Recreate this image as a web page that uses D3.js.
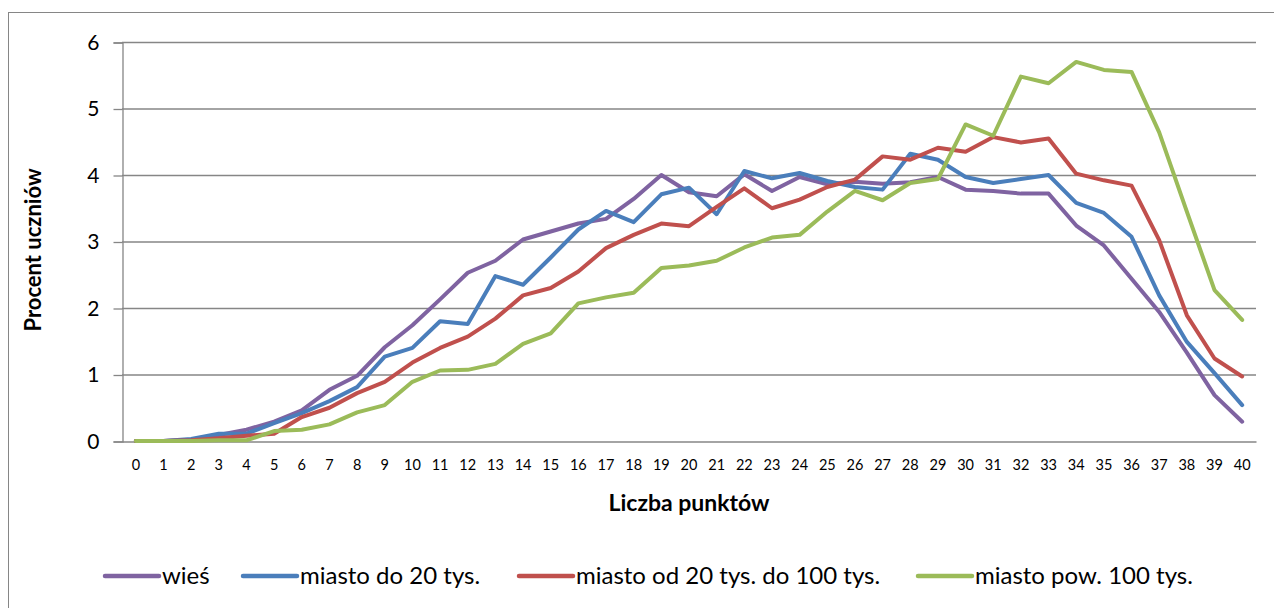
<!DOCTYPE html>
<html>
<head>
<meta charset="utf-8">
<script src="https://cdn.jsdelivr.net/npm/d3@7"></script>
<style>
	body { margin: 0; background: #fff; }
	svg { display: block; font-family: Lato, "Noto Sans", sans-serif; }
</style>
</head>
<body>
<script>
var points = d3.range(0, 41);
var yTicks = [0, 1, 2, 3, 4, 5, 6];
var seriesNames = ["wieś", "miasto do 20 tys.", "miasto od 20 tys. do 100 tys.", "miasto pow. 100 tys."];
var seriesColors = ["#7F63A1", "#4A7EBB", "#C0504D", "#9BBB59"];

var wies = [0, 0, 0.02, 0.09, 0.17, 0.29, 0.46, 0.77, 0.98, 1.41,
	1.74, 2.13, 2.53, 2.71, 3.03, 3.15, 3.27, 3.34, 3.64, 4.0,
	3.74, 3.68, 4.01, 3.76, 3.97, 3.86, 3.9, 3.87, 3.89, 3.97,
	3.78, 3.76, 3.72, 3.72, 3.24, 2.94, 2.44, 1.94, 1.33, 0.69, 0.29];
var miastoDo20 = [0, 0, 0.03, 0.11, 0.11, 0.27, 0.42, 0.6, 0.81, 1.27,
	1.4, 1.8, 1.76, 2.48, 2.35, 2.76, 3.18, 3.46, 3.29, 3.71,
	3.81, 3.41, 4.06, 3.95, 4.03, 3.91, 3.82, 3.78, 4.32, 4.23,
	3.97, 3.88, 3.94, 4.0, 3.58, 3.43, 3.07, 2.19, 1.49, 1.02, 0.54];
var miastoDo100 = [0, 0, 0.01, 0.04, 0.08, 0.11, 0.36, 0.5, 0.72, 0.89,
	1.18, 1.4, 1.57, 1.84, 2.19, 2.3, 2.55, 2.9, 3.1, 3.27,
	3.23, 3.52, 3.8, 3.5, 3.63, 3.82, 3.93, 4.28, 4.23, 4.41,
	4.35, 4.57, 4.49, 4.55, 4.02, 3.92, 3.84, 3.02, 1.89, 1.24, 0.97];
var miastoPow100 = [0, 0, 0, 0.01, 0.01, 0.15, 0.17, 0.25, 0.43, 0.54,
	0.89, 1.06, 1.07, 1.16, 1.46, 1.62, 2.07, 2.16, 2.23, 2.6,
	2.64, 2.71, 2.91, 3.06, 3.1, 3.45, 3.76, 3.62, 3.88, 3.94,
	4.76, 4.59, 5.48, 5.38, 5.7, 5.58, 5.55, 4.64, 3.45, 2.27, 1.82];

var seriesValues = [wies, miastoDo20, miastoDo100, miastoPow100];

var width = 1274,
	height = 608,
	plotLeft = 122,
	plotRight = 1256,
	plotTop = 42,
	plotBottom = 441,
	gridColor = "#868686";

var svg = d3.select("body").append("svg")
	.attr("width", width)
	.attr("height", height);

// chart frame (runs off the right and bottom edges)
svg.append("rect")
	.attr("x", 8.5)
	.attr("y", 12.5)
	.attr("width", 1300)
	.attr("height", 700)
	.attr("fill", "none")
	.attr("stroke", gridColor)
	.attr("stroke-width", 1);

var x = d3.scaleBand()
	.domain(points)
	.range([plotLeft, plotRight]);

var y = d3.scaleLinear()
	.domain([0, 6])
	.range([plotBottom, plotTop]);

// gridlines
svg.append("g")
	.selectAll("line")
	.data(yTicks.filter(function(d) { return d > 0; }))
	.enter()
	.append("line")
	.attr("x1", plotLeft)
	.attr("x2", plotRight)
	.attr("y1", function(d) { return y(d) + 0.5; })
	.attr("y2", function(d) { return y(d) + 0.5; })
	.attr("stroke", gridColor)
	.attr("stroke-width", 1.3);

// y axis
var yAxis = svg.append("g")
	.attr("transform", "translate(" + (plotLeft + 0.5) + ",0.5)")
	.call(d3.axisLeft(y).tickValues(yTicks).tickFormat(d3.format("d")).tickSize(9).tickPadding(14));
yAxis.selectAll("line, path").attr("stroke", gridColor).attr("stroke-width", 1.3);
yAxis.selectAll("text")
	.attr("font-size", 21)
	.attr("fill", "#000")
	.attr("font-family", "Lato, 'Noto Sans', sans-serif");

// x axis
var xAxis = svg.append("g")
	.attr("transform", "translate(0," + (plotBottom + 0.5) + ")")
	.call(d3.axisBottom(x).tickSize(0).tickPadding(18).tickSizeOuter(0));
xAxis.select("path").attr("stroke", gridColor).attr("stroke-width", 1.3);
xAxis.selectAll("text")
	.attr("font-size", 14.5)
	.attr("fill", "#000")
	.attr("font-family", "Lato, 'Noto Sans', sans-serif");

// axis titles
svg.append("text")
	.attr("transform", "translate(41,250) rotate(-90)")
	.attr("text-anchor", "middle")
	.attr("font-size", 22)
	.attr("font-weight", "bold")
	.text("Procent uczniów");

svg.append("text")
	.attr("x", 689)
	.attr("y", 511)
	.attr("text-anchor", "middle")
	.attr("font-size", 23)
	.attr("font-weight", "bold")
	.text("Liczba punktów");

// lines
var line = d3.line()
	.x(function(d, i) { return x(points[i]) + x.bandwidth() / 2; })
	.y(function(d) { return y(d); });

svg.append("g")
	.selectAll("path")
	.data(seriesValues)
	.enter()
	.append("path")
	.attr("d", line)
	.attr("fill", "none")
	.attr("stroke", function(d, i) { return seriesColors[i]; })
	.attr("stroke-width", 4)
	.attr("stroke-linejoin", "round")
	.attr("stroke-linecap", "round");

// legend
var legendX = [105, 243, 519, 918];
var legend = svg.append("g")
	.selectAll("g.legend")
	.data(seriesNames)
	.enter()
	.append("g")
	.classed("legend", true)
	.attr("transform", function(d, i) { return "translate(" + legendX[i] + ",576)"; });
legend.append("line")
	.attr("x1", 0)
	.attr("x2", 54)
	.attr("stroke", function(d, i) { return seriesColors[i]; })
	.attr("stroke-width", 4.5)
	.attr("stroke-linecap", "round");
legend.append("text")
	.attr("x", 57)
	.attr("y", 8)
	.attr("font-size", 24)
	.text(function(d) { return d; });
</script>
</body>
</html>
